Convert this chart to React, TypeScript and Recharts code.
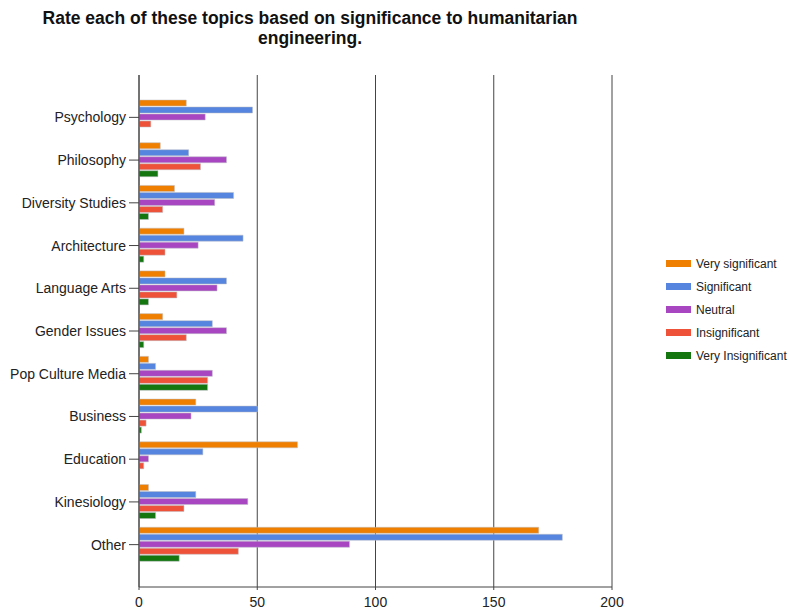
import {Bar, BarChart, CartesianGrid, XAxis, YAxis} from 'recharts';

const topics = [
  'Psychology',
  'Philosophy',
  'Diversity Studies',
  'Architecture',
  'Language Arts',
  'Gender Issues',
  'Pop Culture Media',
  'Business',
  'Education',
  'Kinesiology',
  'Other',
];

const verySignificant = [20, 9, 15, 19, 11, 10, 4, 24, 67, 4, 169];
const significant = [48, 21, 40, 44, 37, 31, 7, 50, 27, 24, 179];
const neutral = [28, 37, 32, 25, 33, 37, 31, 22, 4, 46, 89];
const insignificant = [5, 26, 10, 11, 16, 20, 29, 3, 2, 19, 42];
const veryInsignificant = [0, 8, 4, 2, 4, 2, 29, 1, 0, 7, 17];

const xTicks = [0, 50, 100, 150, 200];

const series = [
  {key: 'verySignificant', name: 'Very significant', color: '#ef7f00'},
  {key: 'significant', name: 'Significant', color: '#5585de'},
  {key: 'neutral', name: 'Neutral', color: '#a846c2'},
  {key: 'insignificant', name: 'Insignificant', color: '#ee533a'},
  {key: 'veryInsignificant', name: 'Very Insignificant', color: '#13760f'},
];

const data = topics.map((topic, i) => ({
  topic,
  verySignificant: verySignificant[i],
  significant: significant[i],
  neutral: neutral[i],
  insignificant: insignificant[i],
  veryInsignificant: veryInsignificant[i],
}));

const FONT = '"Liberation Sans", Arial, sans-serif';

function SideLegend() {
  return (
    <div
      style={{
        position: 'absolute',
        left: 666,
        top: 252,
        fontFamily: FONT,
        fontSize: 12,
        color: '#222',
      }}
    >
      {series.map((s) => (
        <div key={s.key} style={{display: 'flex', alignItems: 'center', height: 23}}>
          <span
            style={{
              display: 'inline-block',
              width: 25,
              height: 7,
              background: s.color,
              marginRight: 5,
            }}
          />
          <span>{s.name}</span>
        </div>
      ))}
    </div>
  );
}

export default function App() {
  return (
    <div style={{position: 'relative', width: 790, height: 614, background: '#fff'}}>
      <style>{'body{margin:0}'}</style>
      <div
        style={{
          position: 'absolute',
          left: 0,
          top: 8,
          width: 620,
          textAlign: 'center',
          fontFamily: FONT,
          fontWeight: 'bold',
          fontSize: 17.5,
          lineHeight: '20px',
          color: '#111',
          zIndex: 1,
        }}
      >
        Rate each of these topics based on significance to humanitarian
        <br />
        engineering.
      </div>
      <SideLegend />
      <BarChart
        width={790}
        height={614}
        data={data}
        layout="vertical"
        margin={{top: 75, right: 178, bottom: 0, left: 0}}
        barSize={6}
        barGap={1}
      >
        <CartesianGrid horizontal={false} stroke="#444" strokeWidth={1} />
        <XAxis
          type="number"
          domain={[0, 200]}
          ticks={xTicks}
          height={27}
          tickSize={3}
          tickMargin={7}
          stroke="#444"
          tick={{fontSize: 14, fill: '#222', fontFamily: FONT}}
        />
        <YAxis
          type="category"
          dataKey="topic"
          width={139}
          padding={{top: 21, bottom: 21}}
          tickSize={10}
          tickMargin={3}
          stroke="#444"
          interval={0}
          tick={{fontSize: 14, fill: '#222', fontFamily: FONT}}
        />
        {series.map((s) => (
          <Bar
            key={s.key}
            dataKey={s.key}
            name={s.name}
            fill={s.color}
            stroke="rgba(190,190,200,0.5)"
            strokeWidth={1}
            isAnimationActive={false}
          />
        ))}
      </BarChart>
    </div>
  );
}
